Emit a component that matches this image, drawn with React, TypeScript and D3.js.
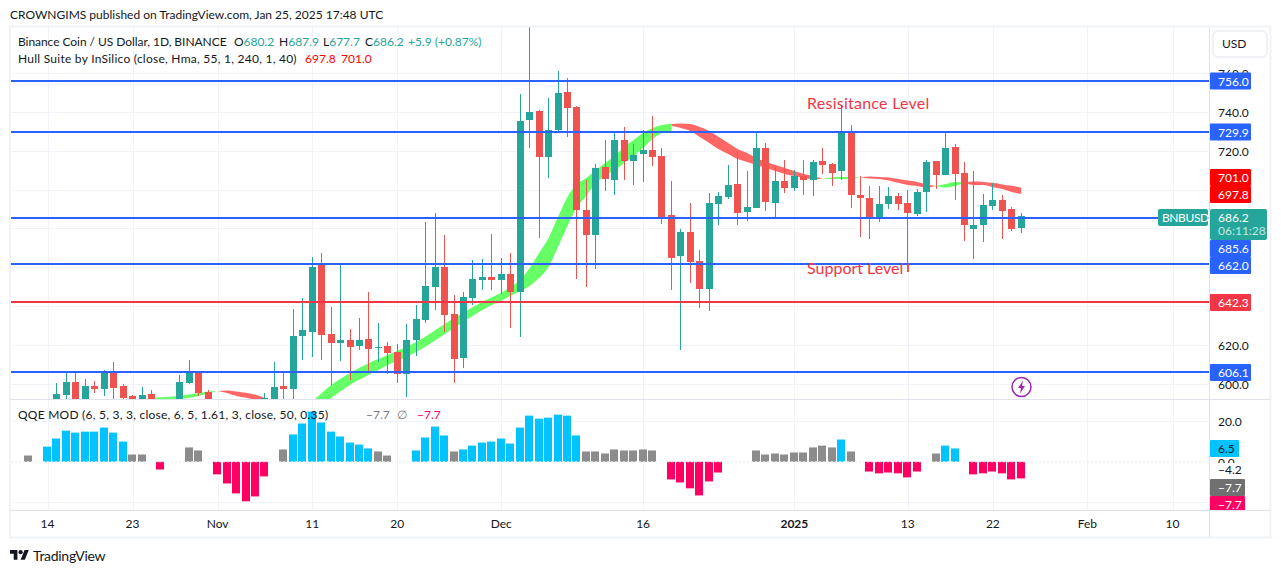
import React from 'react'
import * as d3 from 'd3'

const width = 1281
const height = 573
const font = 'Lato, sans-serif'
const fs = 12

// daily candles, first one is Oct 15 2024. null = below the visible price range
const firstDay = new Date(Date.UTC(2024, 9, 15))
const opens = [590,594.3,601,590,598.9,597.3,605.6,598.9,593.7,588,594.8,null,null,590,600.4,606.1,595.8,null,null,null,null,null,591.5,590,598.9,597.3,624.6,626.7,661.2,625.6,621,622.6,619.5,623.1,618.4,619.5,616.4,605.1,622.6,632.9,649.9,660.2,636,613.3,644.2,653.5,655,653.5,656.6,647.3,735.9,740.5,716.8,730.8,750.3,742.6,689.5,676.7,711.7,705,725.6,714.8,718.4,720.5,717.4,687,665.8,678.2,663.3,648.8,692.6,696.2,702.9,688.5,690.6,721.5,693.1,704.5,700.9,707,705,714.8,713.2,709.6,729.7,697.3,695.7,685.4,692.6,696.7,693.1,687.5,698.8,714.8,707.6,722,708.6,679.8,681.8,691.6,694.7,690,680.2]
const highs = [600.4,605.6,606.7,602.5,601.5,607.1,611.2,599.9,594.3,598.4,596.9,null,null,604.6,612.3,606.7,596.9,null,null,null,null,null,595.2,611.2,606.1,638.5,644.2,665.3,667.4,639.6,661.2,628.2,633.9,647.3,631.3,621.5,620.5,630.8,640.6,683.4,688,676.7,645.7,647.3,663.8,664.3,677.2,664.8,667.4,749.3,783.8,741.1,747.2,761.2,757.5,743.1,705,713.2,725.6,729.7,732.3,723.5,730.8,738,721.5,704.5,679.7,693.1,668.9,698.3,698.8,712.7,719.4,709.6,730.2,724.1,711.7,715.3,710.1,715.3,715.3,721.5,713.8,743.6,733.3,707,701.9,701.9,701.4,698.3,699.8,700.4,715.3,714.8,729.7,723.5,714.3,709.6,697.8,703.5,697.3,691,687.9]
const lows = [588,590,588,588,595.2,593.7,590,590,588,586,586,null,null,588,599.9,593.7,586,null,null,null,null,null,590,586,590,590,612.3,613.8,612.3,599.4,611.7,602,617.4,605.6,611.2,605.1,600.4,593.2,614.3,631.3,638,626.7,600.4,608.1,640.6,648.3,648.3,646.3,628.7,624.1,721.5,675.1,706,730.2,727.1,654,649.9,659.1,699.3,697.3,705,702.4,704,712.2,682.3,648.3,617.4,651.9,639,637.5,681.8,695.2,681.8,683.9,690.6,689,685.9,698.3,699.3,697.3,696.7,708.1,701.9,705,690.6,675.6,674.6,683.4,690,689.5,657.6,686.4,688.5,700.4,707.6,694.7,673.6,664.3,673.1,689.5,674.6,678.7,677.7]
const closes = [594.8,601,590,598.9,597.3,605.6,597.9,592.7,590,594.3,588,null,null,601,606.1,595.2,588,null,null,null,null,null,592.7,598.4,597.3,624.6,627.7,660.2,625.1,621,622.6,619,622.6,617.9,619,615.9,605.1,622.6,633.4,650.4,660.2,635.5,612.8,644.7,654,655,653.5,656.6,647.3,735.4,740,716.8,730.8,749.8,742.1,689.5,676.7,711.2,705.5,725.6,714.8,717.9,720.5,716.8,685.4,664.8,678.2,662.8,648.8,693.1,696.7,702.4,688,691.1,721.5,693.7,704.5,700.9,707,705,714.3,712.7,708.6,729.7,697.3,695.7,684.9,692.6,696.7,692.6,688,698.8,714.3,707.6,721.5,708.1,681.8,681.8,692.1,694.7,689,679.8,686.2]

// Hull Suite ribbon, day number counted from firstDay. day 65 twice: the colour flips with the band still open
const hullDays = [9,10,13,15,16,17,18,19,21,23,25,26,27,29,31,33,35,38,42,45,48,49,50,51,52,53,54,55,56,57,58,59,60,61,62,63,64,65,65,66,67,68,69,70,71,72,73,74,75,76,77,78,79,80,81,82,83,84,85,86,87,88,89,90,91,92,93,94,95,96,97,98,99,100,101,102]
const hullFast = [591.9,592.7,593.7,595.2,596,596.3,595.2,593.7,591.7,587.5,585.5,588,591.1,599.4,605.6,610.7,614.8,621.5,633.9,642.2,649.9,653.5,659.7,667.4,675.1,685.9,696.2,702.9,706,710.1,713.8,717.4,722,725.6,729.2,731.8,733.3,734.1,732.8,731.8,730.2,727.1,724,720.8,718.4,715.8,714.3,712.7,711.2,709.6,708.1,707,706,705.5,705.8,706.3,706.5,706.5,706.3,705.8,705.5,704.7,703.5,702.4,701.9,701.1,701.9,702.9,704,703.5,702.4,702.4,701.3,700.4,698.8,697.8]
const hullSlow = [591.4,591.7,592.2,593.7,595,596.3,596.6,596,594.3,590.6,587.5,588,585.5,592.7,599.4,604.6,609.7,616.4,628.7,638,645.3,647.8,650.4,654.5,660.2,670.5,681.3,691.1,696.8,703.5,707,710.1,713.8,717.4,721.5,726.1,729.2,730.2,733.8,734.1,733.8,732.3,730.2,727.1,724.1,721,718.9,716.3,714.3,712.7,711.2,709.6,708.1,707,705.8,705.5,705.5,705.8,706.3,706.8,706.5,706.3,705.5,704.7,704,702.7,701.9,701.1,701.9,703.5,704.2,704,703.5,702.7,702,701]

// QQE MOD histogram
const qqeDays = [-3,-1,0,1,2,3,4,5,6,7,8,9,11,14,15,17,18,19,20,21,22,24,25,26,27,28,29,30,31,32,33,34,35,38,39,40,41,42,43,44,45,46,47,48,49,50,51,52,53,54,55,56,57,58,59,60,61,62,63,65,66,67,68,69,70,74,75,76,77,78,79,80,81,82,83,84,86,87,88,89,90,91,93,94,95,97,98,99,100,101,102]
const qqeValues = [3.1,7.5,11.5,15.4,14.4,14.9,14.9,16.9,14.4,10,3.6,3.6,-3.8,7.1,5.6,-6.2,-10.7,-15.6,-19.5,-17.1,-7.2,6.1,13.5,18.9,24.8,19.4,14.9,12.5,9.5,8.5,6.6,5.1,3.1,5.6,12,17.4,13,5.1,6.1,8,9.5,10,11.5,9,16.9,22.8,21.3,21.8,23.3,22.8,13,5.1,5.1,4.1,6.1,5.6,5.6,6.1,5.6,-8.7,-10.2,-13.1,-16.6,-9.7,-5.3,5.6,3.6,4.1,3.6,4.6,4.6,7.1,8,7.1,11,5.1,-4.8,-5.7,-5.3,-5.7,-7.7,-4.8,4.1,8,6.6,-6.2,-5.7,-4.8,-5.7,-8.7,-8.2]
const qqeGrey = [-3,8,9,14,15,24,34,35,42,56,57,58,59,60,61,62,63,74,75,76,77,78,79,80,81,82,84,93]

const priceTicks = [760,740,720,700,680,660,640,620,600]
const qqeTicks = [20,0,-20]
const timeTicks = [[2024,9,14],[2024,9,23],[2024,10,1],[2024,10,11],[2024,10,20],[2024,11,1],[2024,11,16],[2025,0,1],[2025,0,13],[2025,0,22],[2025,1,1],[2025,1,10]]
const timeLabels = ['14','23','Nov','11','20','Dec','16','2025','13','22','Feb','10']

const blueLevels = [756,729.9,685.6,662,606.1]
const redLevels = [642.3]

const xScale = d3.scaleUtc()
  .domain([new Date(Date.UTC(2024, 9, 14)), new Date(Date.UTC(2025, 1, 10))])
  .range([47.5, 1172.5])
const yPrice = d3.scaleLinear().domain([591.8, 783.8]).range([399.7, 27])
const yQqe = d3.scaleLinear().domain([-20, 20]).range([502.3, 421.3])

const dayX = (n: number) => xScale(d3.utcDay.offset(firstDay, n))
const levelY = (p: number) => Math.round(yPrice(p) + 0.2)

const plotLeft = 11
const plotRight = 1209
const UP = '#26a69a'
const DOWN = '#ef5350'
const BLUE = '#2962ff'
const RED = '#f23645'
const GRID = '#f0f3fa'
const FRAME = '#e0e3eb'

// cut the ribbon in runs of one colour
function hullRuns() {
  const runs: { up: boolean, pts: number[] }[] = []
  let cur: { up: boolean, pts: number[] } | null = null
  hullDays.forEach((d, i) => {
    const diff = hullFast[i] - hullSlow[i]
    if (diff === 0) {
      if (cur) cur.pts.push(i)
      cur = null
      return
    }
    if (!cur || cur.up !== diff > 0) {
      cur = { up: diff > 0, pts: i > 0 && hullFast[i - 1] === hullSlow[i - 1] ? [i - 1] : [] }
      runs.push(cur)
    }
    cur.pts.push(i)
  })
  return runs
}

const ribbon = d3.area<number>()
  .x(i => dayX(hullDays[i]))
  .y0(i => yPrice(hullSlow[i]))
  .y1(i => yPrice(hullFast[i]))
  .curve(d3.curveMonotoneX)

function Tag({ y, text, fill, w = 41, color = '#fff', h = 17 }: any) {
  return (
    <g>
      <rect x={1210} y={y - h / 2} width={w} height={h} fill={fill} rx={1} />
      <text x={1218} y={y + 4.5} fontSize={fs} fill={color} fontFamily={font}>{text}</text>
    </g>
  )
}

function Candles() {
  return (
    <g clipPath="url(#pricePane)">
      {opens.map((o, i) => {
        if (o === null) return null
        const c = closes[i] as number
        const px = Math.floor(dayX(i))
        const top = Math.round(yPrice(Math.max(o, c)))
        const bot = Math.round(yPrice(Math.min(o, c)))
        const hi = Math.round(yPrice(highs[i] as number))
        const lo = Math.round(yPrice(lows[i] as number))
        const color = c >= o ? UP : DOWN
        return (
          <g key={i} fill={color}>
            <rect x={px} y={hi} width={1} height={Math.max(lo - hi, 1)} />
            <rect x={px - 3} y={top} width={7} height={Math.max(bot - top, 1)} />
          </g>
        )
      })}
    </g>
  )
}

function Legend() {
  const t = { fontSize: fs, fontFamily: font }
  return (
    <g {...t}>
      <text x={18} y={46} fill="#131722" letterSpacing={-0.05}>Binance Coin / US Dollar, 1D, BINANCE</text>
      <text x={234} y={46} fill="#131722">O<tspan fill={UP}>680.2</tspan></text>
      <text x={279} y={46} fill="#131722">H<tspan fill={UP}>687.9</tspan></text>
      <text x={323} y={46} fill="#131722">L<tspan fill={UP}>677.7</tspan></text>
      <text x={365} y={46} fill="#131722">C<tspan fill={UP}>686.2</tspan></text>
      <text x={408} y={46} fill={UP}>+5.9 (+0.87%)</text>
      <text x={18} y={63} fill="#131722" letterSpacing={0.25}>Hull Suite by InSilico (close, Hma, 55, 1, 240, 1, 40)</text>
      <text x={305} y={63} fill="#ff0000">697.8</text>
      <text x={341} y={63} fill="#ff0000">701.0</text>
      <text x={18} y={419} fill="#131722" letterSpacing={0.24}>QQE MOD (6, 5, 3, 3, close, 6, 5, 1.61, 3, close, 50, 0.35)</text>
      <text x={366} y={419} fill="#787b86">−7.7</text>
      <text x={397} y={419} fill="#787b86">∅</text>
      <text x={417} y={419} fill="#ff0062">−7.7</text>
    </g>
  )
}

export default function App() {
  return (
    <svg width={width} height={height} style={{ position: 'fixed', left: 0, top: 0, background: '#fff' }}>
      <defs>
        <clipPath id="pricePane"><rect x={plotLeft} y={27} width={plotRight - plotLeft} height={372.5} /></clipPath>
        <clipPath id="qqePane"><rect x={plotLeft} y={400} width={plotRight - plotLeft} height={110} /></clipPath>
        <clipPath id="qqeAxis"><rect x={1210} y={400} width={60} height={110} /></clipPath>
      </defs>
      <text x={10} y={19} fontSize={fs} fontFamily={font} fill="#131722">CROWNGIMS published on TradingView.com, Jan 25, 2025 17:48 UTC</text>

      {/* grid */}
      {timeTicks.map((d, i) => {
        const px = Math.round(xScale(new Date(Date.UTC(d[0], d[1], d[2])))) + 0.5
        return <line key={i} x1={px} x2={px} y1={27} y2={510} stroke={GRID} />
      })}
      {priceTicks.map(p => {
        const py = Math.round(yPrice(p)) + 0.5
        return <line key={p} x1={plotLeft} x2={plotRight} y1={py} y2={py} stroke={GRID} />
      })}
      {qqeTicks.filter(v => v !== 0).map(v => {
        const py = Math.round(yQqe(v)) + 0.5
        return <line key={v} x1={plotLeft} x2={plotRight} y1={py} y2={py} stroke={GRID} />
      })}

      {/* Hull ribbon */}
      <g clipPath="url(#pricePane)">
        {hullRuns().map((r, i) => (
          <path key={i} d={ribbon(r.pts) as string} fill={r.up ? '#66ff66' : '#ff6666'} />
        ))}
      </g>

      <Candles />

      {/* drawn levels */}
      {blueLevels.map(p => (
        <line key={p} x1={plotLeft} x2={plotRight} y1={levelY(p)} y2={levelY(p)} stroke={BLUE} strokeWidth={2} />
      ))}
      {redLevels.map(p => (
        <line key={p} x1={plotLeft} x2={plotRight} y1={levelY(p)} y2={levelY(p)} stroke={RED} strokeWidth={2} />
      ))}

      <text x={807} y={109} fontSize={16} fontFamily={font} fill={RED} letterSpacing={0.25}>Resisitance Level</text>
      <text x={807} y={274} fontSize={16} fontFamily={font} fill={RED}>Support Level</text>
      <line x1={908.5} x2={908.5} y1={yPrice(662)} y2={yPrice(657.6)} stroke={DOWN} />

      {/* lightning mark */}
      <circle cx={1021.5} cy={387} r={9.5} fill="#fff" stroke="#9c27b0" strokeWidth={1.5} />
      <path d="M1023 380.5 L1018 388 L1021 388 L1020 393.5 L1025 386 L1022 386 Z" fill="#9c27b0" />

      {/* QQE histogram */}
      <g clipPath="url(#qqePane)">
        {qqeDays.map((d, i) => {
          const v = qqeValues[i]
          const px = Math.floor(dayX(d))
          const color = qqeGrey.includes(d) ? '#8c8c8c' : v > 0 ? '#00c3ff' : '#ff0062'
          const y0 = yQqe(0)
          const y1 = yQqe(v)
          return <rect key={d} x={px - 4} y={Math.min(y0, y1)} width={8} height={Math.abs(y1 - y0)} fill={color} />
        })}
        <line x1={plotLeft} x2={plotRight} y1={yQqe(0)} y2={yQqe(0)} stroke="#e8eaf0" strokeDasharray="2 2" />
      </g>

      <Legend />

      {/* frames */}
      <rect x={10} y={26.5} width={1260.5} height={511} fill="none" stroke={GRID} strokeWidth={2} />
      <line x1={plotRight + 0.5} x2={plotRight + 0.5} y1={27} y2={537} stroke={FRAME} />
      <line x1={10} x2={1270} y1={399.5} y2={399.5} stroke={FRAME} />
      <line x1={10} x2={1270} y1={510.5} y2={510.5} stroke={FRAME} />

      {/* time axis */}
      {timeLabels.map((l, i) => {
        const d = timeTicks[i]
        return (
          <text key={i} x={xScale(new Date(Date.UTC(d[0], d[1], d[2])))} y={528} textAnchor="middle"
            fontSize={fs} fontFamily={font} fontWeight={l === '2025' ? 700 : 400} fill="#131722">{l}</text>
        )
      })}

      {/* price axis */}
      <rect x={1213} y={31} width={54} height={26} rx={5} fill="#fff" stroke={FRAME} />
      <text x={1222} y={48} fontSize={fs} fontFamily={font} fill="#131722">USD</text>
      {priceTicks.filter(p => [760, 740, 720, 620, 600].includes(p)).map(p => (
        <text key={p} x={1218} y={yPrice(p) + 5} fontSize={fs} fontFamily={font} fill="#131722">{p.toFixed(1)}</text>
      ))}
      <Tag y={81} text="756.0" fill={BLUE} />
      <Tag y={132} text="729.9" fill={BLUE} />
      <Tag y={177.5} text="701.0" fill="#ff0000" />
      <Tag y={194.5} text="697.8" fill="#ff0000" />
      <rect x={1158} y={209} width={50} height={17} rx={2} fill={UP} />
      <text x={1162} y={222} fontSize={fs} fontFamily={font} fill="#fff" letterSpacing={-0.4}>BNBUSD</text>
      <rect x={1210} y={209} width={57} height={31} rx={2} fill={UP} />
      <text x={1218} y={222} fontSize={fs} fontFamily={font} fill="#fff">686.2</text>
      <text x={1218} y={235} fontSize={fs} fontFamily={font} fill="#bfe6e2">06:11:28</text>
      <Tag y={248.5} text="685.6" fill={BLUE} />
      <Tag y={265.5} text="662.0" fill={BLUE} />
      <Tag y={302.5} text="642.3" fill={RED} />
      <Tag y={372.5} text="606.1" fill={BLUE} />

      <text x={1218} y={yQqe(20) + 5} fontSize={fs} fontFamily={font} fill="#131722">20.0</text>
      <text x={1218} y={yQqe(0) + 5} fontSize={fs} fontFamily={font} fill="#131722">0.0</text>
      <rect x={1210} y={463} width={40} height={14} fill="#fff" />
      <text x={1218} y={474} fontSize={fs} fontFamily={font} fill="#131722">−4.2</text>
      <Tag y={448.5} text="6.5" fill="#00c3ff" color="#131722" w={29} />
      <Tag y={487.5} text="−7.7" fill="#707070" w={35} />
      <g clipPath="url(#qqeAxis)">
        <Tag y={504.5} text="−7.7" fill="#ff0062" w={35} />
      </g>

      {/* logo */}
      <g transform="translate(10,548) scale(0.53)" fill="#131722">
        <path d="M14 22H7V11H0V4h14v18zM28 22h-8l7.5-18h8L28 22z" />
        <circle cx={20} cy={8} r={4} />
      </g>
      <text x={33} y={561} fontSize={14} fontFamily={font} fill="#131722" letterSpacing={-0.3}>TradingView</text>
    </svg>
  )
}
